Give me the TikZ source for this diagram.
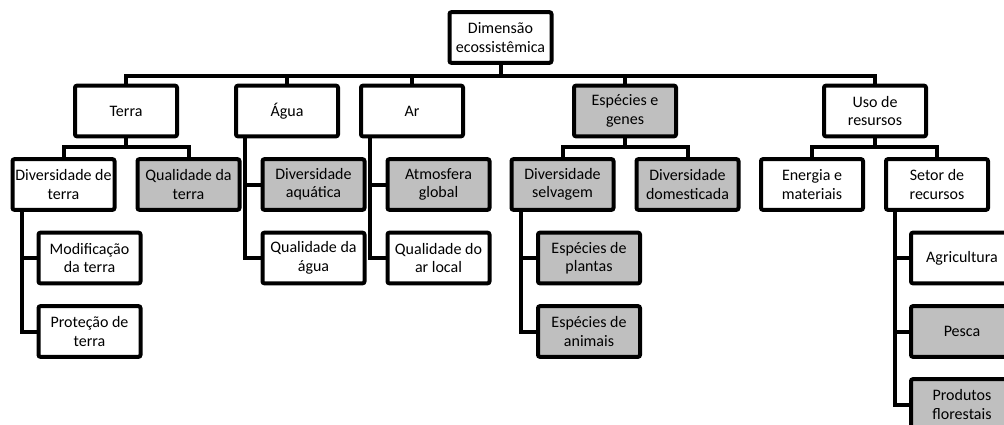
\documentclass[tikz,border=0pt]{standalone}
\usepackage{fontspec}
\setmainfont{Carlito}
\definecolor{boxgray}{RGB}{191,191,191}

\begin{document}
\begin{tikzpicture}[x=0.75pt,y=0.75pt,yscale=-1,xscale=1,
    box/.style={draw,line width=3,rounded corners=1.5pt,fill=white,minimum width=76.5pt,minimum height=38pt,inner sep=1pt,align=center,font=\fontsize{12}{13.8}\selectfont},
    gbox/.style={box,fill=boxgray},
    link/.style={line width=3}]
    \path [use as bounding box,clip] (0,0) rectangle (1004,425);

    \node [box] (root) at (500.5,37.5) {Dimensão\\ecossistêmica};

    \node [box] (terra) at (126,111) {Terra};
    \node [box] (agua) at (287,111) {Água};
    \node [box] (ar) at (412,111) {Ar};
    \node [gbox] (especies) at (625,111) {Espécies e\\genes};
    \node [box] (uso) at (875,111) {Uso de\\resursos};

    \node [box] (divterra) at (63.5,184.5) {Diversidade de\\terra};
    \node [gbox] (qualterra) at (188.5,184.5) {Qualidade da\\terra};
    \node [gbox] (divaqua) at (313.5,184.5) {Diversidade\\aquática};
    \node [gbox] (atmos) at (438.5,184.5) {Atmosfera\\global};
    \node [gbox] (divselv) at (562.5,184.5) {Diversidade\\selvagem};
    \node [gbox] (divdom) at (687.5,184.5) {Diversidade\\domesticada};
    \node [box] (energia) at (812,184.5) {Energia e\\materiais};
    \node [box] (setor) at (937,184.5) {Setor de\\recursos};

    \node [box] (modif) at (89.5,258) {Modificação\\da terra};
    \node [box] (protec) at (89.5,331.5) {Proteção de\\terra};
    \node [box] (qualagua) at (313.5,258) {Qualidade da\\água};
    \node [box] (qualar) at (438.5,258) {Qualidade do\\ar local};
    \node [gbox] (plantas) at (589,258) {Espécies de\\plantas};
    \node [gbox] (animais) at (589,331.5) {Espécies de\\animais};
    \node [box] (agric) at (962,258) {Agricultura};
    \node [gbox] (pesca) at (962,331.5) {Pesca};
    \node [gbox] (produtos) at (962,404.5) {Produtos\\florestais};

    \coordinate (bus) at (500.5,76);
    \foreach \n in {terra,agua,ar,especies,uso}
      \draw [link] (root.south) -- (bus) -| (\n.north);

    \coordinate (terraB) at (126,147);
    \coordinate (especiesB) at (625,147);
    \coordinate (usoB) at (875,147);
    \draw [link] (terra.south) -- (terraB) -| (divterra.north);
    \draw [link] (terraB) -| (qualterra.north);
    \draw [link] (especies.south) -- (especiesB) -| (divselv.north);
    \draw [link] (especiesB) -| (divdom.north);
    \draw [link] (uso.south) -- (usoB) -| (energia.north);
    \draw [link] (usoB) -| (setor.north);

    \coordinate (divterraL) at ([xshift=8.25pt]divterra.south west);
    \coordinate (aguaL) at ([xshift=8.25pt]agua.south west);
    \coordinate (arL) at ([xshift=8.25pt]ar.south west);
    \coordinate (divselvL) at ([xshift=8.25pt]divselv.south west);
    \coordinate (setorL) at ([xshift=8.25pt]setor.south west);
    \draw [link] (divterraL) |- (modif.west);
    \draw [link] (divterraL) |- (protec.west);
    \draw [link] (aguaL) |- (divaqua.west);
    \draw [link] (aguaL) |- (qualagua.west);
    \draw [link] (arL) |- (atmos.west);
    \draw [link] (arL) |- (qualar.west);
    \draw [link] (divselvL) |- (plantas.west);
    \draw [link] (divselvL) |- (animais.west);
    \draw [link] (setorL) |- (agric.west);
    \draw [link] (setorL) |- (pesca.west);
    \draw [link] (setorL) |- (produtos.west);
  \end{tikzpicture}
\end{document}
